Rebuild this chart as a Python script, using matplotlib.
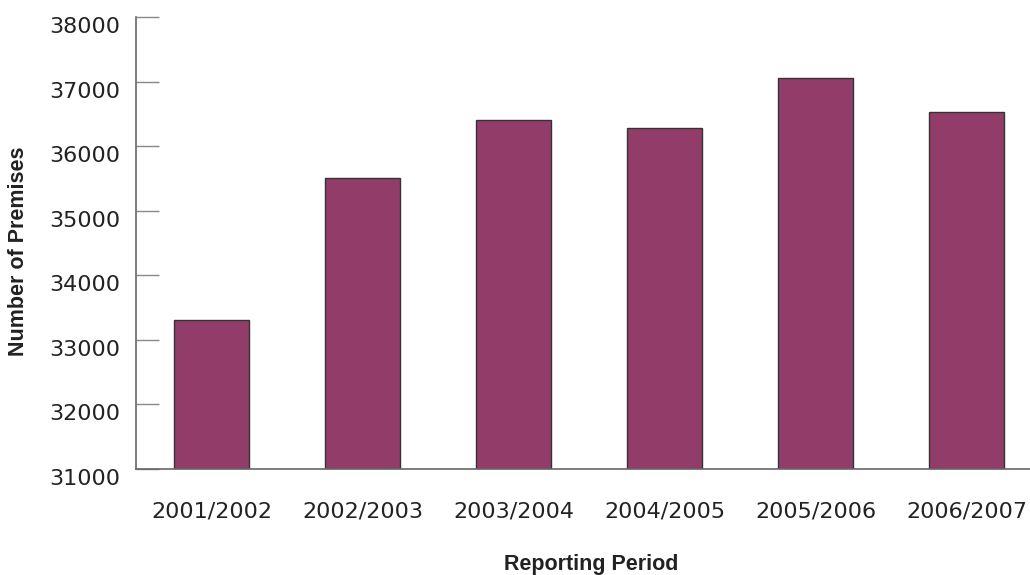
"""Number of premises by reporting period, bar chart."""

import matplotlib
matplotlib.use("Agg")
import matplotlib.pyplot as plt
from matplotlib.transforms import ScaledTranslation

# --- Data ---
periods = ["2001/2002", "2002/2003", "2003/2004", "2004/2005",
           "2005/2006", "2006/2007"]
premises = [33300, 35500, 36400, 36280, 37060, 36520]
y_ticks = [31000, 32000, 33000, 34000, 35000, 36000, 37000, 38000]

BAR = "#923C6A"
AXIS = "#666666"

plt.rcParams["font.family"] = ["DejaVu Sans"]

# --- Plot ---
fig = plt.figure(figsize=(10.30, 5.75), dpi=100)
ax = fig.add_axes([0.132, 0.1852, 0.8797, 0.7852])

x = range(len(periods))
ax.bar(x, premises, width=0.5, color=BAR, edgecolor="#333333",
       linewidth=1.0, zorder=2)

ax.set_xlim(-0.5, len(periods) - 0.5)
ax.set_ylim(y_ticks[0], y_ticks[-1])
ax.set_yticks(y_ticks)
ax.set_xticks(list(x))
ax.set_xticklabels(periods)

for side in ("top", "right"):
    ax.spines[side].set_visible(False)
for side in ("left", "bottom"):
    ax.spines[side].set_color(AXIS)
    ax.spines[side].set_linewidth(1.2)

ax.tick_params(axis="y", direction="in", length=16.5, width=1.0,
               color="#888888", pad=11, labelsize=16, labelcolor="#222222")
ax.tick_params(axis="x", length=0, pad=24, labelsize=16,
               labelcolor="#222222")

# y labels sit a little below their tick marks in the original
shift = ScaledTranslation(0, -0.08, fig.dpi_scale_trans)
for lbl in ax.get_yticklabels():
    lbl.set_transform(lbl.get_transform() + shift)

fig.text(0.0175, 0.5635, "Number of Premises", rotation=90,
         ha="center", va="center", fontsize=15.5, fontweight="bold",
         family="Liberation Sans", color="#222222")
fig.text(0.574, 0.019, "Reporting Period", ha="center", va="center",
         fontsize=15.5, fontweight="bold", family="Liberation Sans",
         color="#222222")

# --- Save ---
fig.savefig("out.png", dpi=100)
plt.close(fig)
